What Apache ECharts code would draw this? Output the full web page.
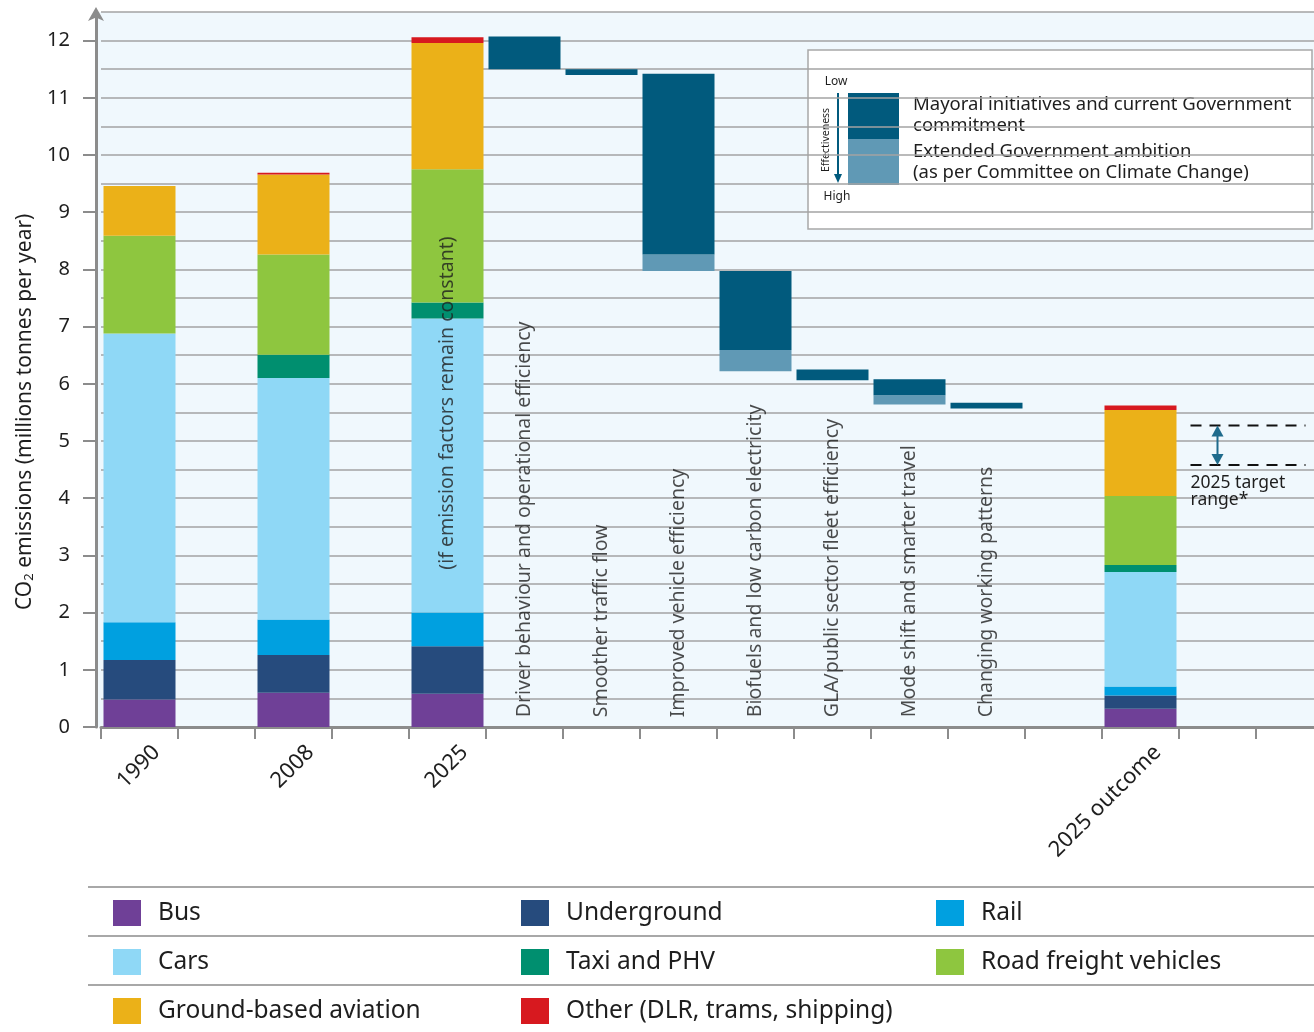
<!DOCTYPE html>
<html><head><meta charset="utf-8">
<script src="https://cdn.jsdelivr.net/npm/echarts@6/dist/echarts.min.js"></script>
<style>html,body{margin:0;padding:0;background:#fff}#c{width:1314px;height:1032px}</style>
</head><body><div id="c"></div>
<script>
// ---------- data ----------
const categories = ['1990','','2008','','2025',
  'Driver behaviour and operational efficiency','Smoother traffic flow','Improved vehicle efficiency',
  'Biofuels and low carbon electricity','GLA/public sector fleet efficiency','Mode shift and smarter travel',
  'Changing working patterns','','2025 outcome','',''];
const stackCats = ['1990','2008','2025','2025 outcome'];
const bus         = [0.48, 0.60, 0.58, 0.32];
const underground = [0.69, 0.66, 0.83, 0.23];
const rail        = [0.66, 0.62, 0.59, 0.16];
const cars        = [5.05, 4.22, 5.14, 2.00];
const taxi        = [0.00, 0.41, 0.28, 0.12];
const roadFreight = [1.71, 1.75, 2.33, 1.21];
const aviation    = [0.87, 1.40, 2.21, 1.50];
const other       = [0.00, 0.03, 0.10, 0.08];
const measures = ['Driver behaviour and operational efficiency','Smoother traffic flow','Improved vehicle efficiency',
  'Biofuels and low carbon electricity','GLA/public sector fleet efficiency','Mode shift and smarter travel',
  'Changing working patterns'];
const measureTop = [12.07, 11.50, 11.42, 7.97, 6.25, 6.08, 5.67];
const measureMid = [11.50, 11.40, 8.26, 6.59, 6.06, 5.80, 5.57];
const measureLow = [11.50, 11.40, 7.97, 6.22, 6.06, 5.64, 5.57];
const targetRange = [4.58, 5.27];
const targetSlot = 14;
const note2025 = '(if emission factors remain constant)';

// ---------- build ----------
const FONT = '"Noto Sans", "DejaVu Sans", sans-serif';
const TXT = '#1e1e1e';
const AX = '#8c8c8c';
const DARK = '#015a7d', LIGHT = '#6099b5';

function sectorData(vals){
  return categories.map(c => { const i = stackCats.indexOf(c); return (c !== '' && i >= 0 && vals[i] > 0) ? vals[i] : '-'; });
}
function measureData(fn){
  return categories.map(c => { const i = measures.indexOf(c); return i >= 0 ? +fn(i).toFixed(3) : '-'; });
}
const sectors = [
  ['Bus', bus, '#6f4097'],
  ['Underground', underground, '#264b7d'],
  ['Rail', rail, '#00a0e0'],
  ['Cars', cars, '#8fd8f6'],
  ['Taxi and PHV', taxi, '#008f6f'],
  ['Road freight vehicles', roadFreight, '#8ec63f'],
  ['Ground-based aviation', aviation, '#ebb118'],
  ['Other (DLR, trams, shipping)', other, '#d7191f']
];
const BW = 72;
const series = sectors.map(([name, vals, color]) => ({
  name, type: 'bar', stack: 'all', xAxisIndex: 0, yAxisIndex: 0, barWidth: BW,
  itemStyle: { color }, data: sectorData(vals), silent: true
}));
series.push({ name: 'wfBase', type: 'bar', stack: 'all', barWidth: BW, silent: true,
  itemStyle: { color: 'transparent' }, data: measureData(i => measureLow[i]) });
series.push({ name: 'Extended Government ambition', type: 'bar', stack: 'all', barWidth: BW, silent: true,
  itemStyle: { color: LIGHT }, data: measureData(i => measureMid[i] - measureLow[i]) });
series.push({ name: 'Mayoral initiatives and current Government commitment', type: 'bar', stack: 'all', barWidth: BW, silent: true,
  itemStyle: { color: DARK }, data: measureData(i => measureTop[i] - measureMid[i]) });

// vertical texts
const vLabels = measures.map(m => [categories.indexOf(m), 0.17, m]);
vLabels.push([categories.indexOf('2025'), 2.75, note2025]);
series.push({ type: 'scatter', xAxisIndex: 0, yAxisIndex: 0, symbolSize: 0, silent: true, z: 5,
  data: vLabels,
  label: { show: true, position: 'inside', rotate: 90, align: 'left', verticalAlign: 'middle',
    formatter: p => p.data[2], fontFamily: FONT, fontSize: 19.5, color: TXT } });

// target range
series.push({ type: 'custom', xAxisIndex: 0, yAxisIndex: 0, silent: true, z: 6,
  data: [[targetSlot, targetRange[0], targetRange[1]]],
  renderItem: (params, api) => {
    const lo = api.coord([api.value(0), api.value(1)]);
    const hi = api.coord([api.value(0), api.value(2)]);
    const x = lo[0];
    const dash = { stroke: '#111', lineWidth: 2, lineDash: [11, 8] };
    const ac = '#1f6b8c';
    return { type: 'group', children: [
      { type: 'line', shape: { x1: x - 27, y1: hi[1], x2: x + 88, y2: hi[1] }, style: dash },
      { type: 'line', shape: { x1: x - 27, y1: lo[1], x2: x + 88, y2: lo[1] }, style: dash },
      { type: 'line', shape: { x1: x, y1: hi[1] + 8, x2: x, y2: lo[1] - 8 }, style: { stroke: ac, lineWidth: 2 } },
      { type: 'polygon', shape: { points: [[x, hi[1]], [x - 6, hi[1] + 11], [x + 6, hi[1] + 11]] }, style: { fill: ac } },
      { type: 'polygon', shape: { points: [[x, lo[1]], [x - 6, lo[1] - 11], [x + 6, lo[1] - 11]] }, style: { fill: ac } },
      { type: 'text', x: x - 27, y: lo[1] + 9, style: { text: '2025 target\nrange*', fill: TXT, font: '17.5px ' + FONT, lineHeight: 17 } }
    ]};
  }
});

// ---------- layout ----------
const GL = 101, GW = 77 * 16, G0T = 12, G0H = 715, K = G0H / 12.5;
const G1T = G0T + 0.5 * K, G1H = 12 * K;

const option = {
  animation: false,
  backgroundColor: '#fff',
  grid: [
    { left: GL, width: GW, top: G0T, height: G0H, show: true, backgroundColor: '#f0f8fd', borderWidth: 0, outerBoundsMode: 'none', containLabel: false },
    { left: GL, width: GW, top: G1T, height: G1H, outerBoundsMode: 'none', containLabel: false },
    { left: GL + 17, width: GW, top: G0T, height: G0H, outerBoundsMode: 'none', containLabel: false }
  ],
  xAxis: [
    { type: 'category', gridIndex: 0, data: categories,
      axisLine: { lineStyle: { color: AX, width: 3 } },
      axisTick: { show: true, interval: 0, length: 12, lineStyle: { color: AX, width: 2 } },
      axisLabel: { show: false }, splitLine: { show: false } },
    { type: 'category', gridIndex: 1, data: categories, show: false },
    { type: 'category', gridIndex: 2, data: categories,
      axisLine: { show: false }, axisTick: { show: false },
      axisLabel: { interval: 0, rotate: 45, margin: 22, fontSize: 22, fontFamily: FONT, color: TXT,
        formatter: v => (stackCats.indexOf(v) >= 0 ? v : '') } }
  ],
  yAxis: [
    { type: 'value', gridIndex: 0, min: 0, max: 12.5, interval: 0.5, offset: 5,
      axisLine: { show: true, lineStyle: { color: AX, width: 3 }, symbol: ['none', 'arrow'], symbolSize: [12, 14], symbolOffset: [0, 5] },
      axisTick: { show: false }, axisLabel: { show: false },
      splitLine: { show: true, lineStyle: { color: '#a3a3a3', width: 1.5 } } },
    { type: 'value', gridIndex: 1, min: 0, max: 12, interval: 1, offset: 5,
      axisLine: { show: false }, axisTick: { show: true, length: 13, lineStyle: { color: AX, width: 2 } },
      axisLabel: { margin: 26, fontSize: 20, fontFamily: FONT, color: TXT },
      splitLine: { show: false },
      name: 'CO{s|2} emissions (millions tonnes per year)', nameLocation: 'middle', nameGap: 60,
      nameTextStyle: { fontSize: 21, fontFamily: FONT, color: TXT, padding: [0, 56, 0, 0],
        rich: { s: { fontSize: 13, fontFamily: FONT, color: TXT, verticalAlign: 'bottom', padding: [6, 0, 0, 0] } } } },
    { type: 'value', gridIndex: 2, min: 0, max: 12.5, show: false }
  ],
  legend: [
    { left: 113, top: 900, orient: 'vertical', data: ['Bus', 'Cars', 'Ground-based aviation'] },
    { left: 521, top: 900, orient: 'vertical', data: ['Underground', 'Taxi and PHV', 'Other (DLR, trams, shipping)'] },
    { left: 936, top: 900, orient: 'vertical', data: ['Rail', 'Road freight vehicles'] }
  ].map(l => Object.assign(l, { icon: 'rect', itemWidth: 28, itemHeight: 26, itemGap: 23, padding: 0,
      selectedMode: false, textStyle: { fontSize: 24.5, fontFamily: FONT, color: TXT, lineHeight: 26, padding: [0, 0, 0, 12] } })),
  graphic: [
    { type: 'rect', shape: { x: 97.5, y: G0T, width: 4, height: G0H }, style: { fill: '#f0f8fd' }, z: -1, silent: true },
    // legend table rules
    { type: 'line', shape: { x1: 88, y1: 887, x2: 1314, y2: 887 }, style: { stroke: '#a8a8a8', lineWidth: 2 }, silent: true },
    { type: 'line', shape: { x1: 88, y1: 936, x2: 1314, y2: 936 }, style: { stroke: '#a8a8a8', lineWidth: 2 }, silent: true },
    { type: 'line', shape: { x1: 88, y1: 985, x2: 1314, y2: 985 }, style: { stroke: '#a8a8a8', lineWidth: 2 }, silent: true },
    // key box
    { type: 'group', silent: true, z: 10, children: [
      { type: 'rect', shape: { x: 808, y: 50, width: 504, height: 179 }, style: { fill: '#fff', stroke: '#a8a8a8', lineWidth: 1.5 } },
      { type: 'text', x: 836, y: 82, style: { text: 'Low', font: '12px ' + FONT, fill: TXT, align: 'center', verticalAlign: 'middle' } },
      { type: 'text', x: 837, y: 197, style: { text: 'High', font: '12px ' + FONT, fill: TXT, align: 'center', verticalAlign: 'middle' } },
      { type: 'line', shape: { x1: 838, y1: 93, x2: 838, y2: 176 }, style: { stroke: DARK, lineWidth: 2 } },
      { type: 'polygon', shape: { points: [[838, 183], [834, 174], [842, 174]] }, style: { fill: DARK } },
      { type: 'text', x: 826, y: 140, rotation: Math.PI / 2, style: { text: 'Effectiveness', font: '10.5px ' + FONT, fill: TXT, align: 'center', verticalAlign: 'middle' } },
      { type: 'rect', shape: { x: 848, y: 93, width: 51, height: 46 }, style: { fill: DARK } },
      { type: 'rect', shape: { x: 848, y: 139, width: 51, height: 46 }, style: { fill: LIGHT } },
      { type: 'text', x: 913, y: 94, style: { text: 'Mayoral initiatives and current Government\ncommitment', font: '18.5px ' + FONT, fill: TXT, lineHeight: 21 } },
      { type: 'text', x: 913, y: 141, style: { text: 'Extended Government ambition\n(as per Committee on Climate Change)', font: '18.5px ' + FONT, fill: TXT, lineHeight: 21 } }
    ] }
  ],
  series
};
const chart = echarts.init(document.getElementById('c'), null, { renderer: 'canvas' });
chart.setOption(option);
</script>
</body></html>
